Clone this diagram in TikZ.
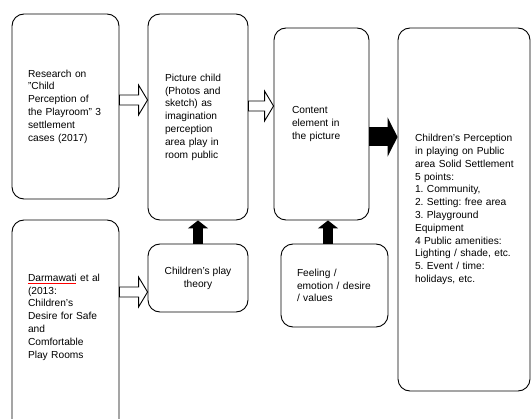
\documentclass[tikz,border=0pt]{standalone}
\usepackage{fontspec}
\setmainfont{Liberation Sans}
\usetikzlibrary{arrows.meta,calc}
\frenchspacing
\hyphenpenalty=10000
\hbadness=10000
\hfuzz=20pt

\newcommand{\redwave}[1]{\setbox0\hbox{#1}\rlap{\textcolor{red}{\raisebox{-2.5pt}{\hbox to \wd0{\leaders\hbox to 2pt{\rule[0.5pt]{1pt}{0.5pt}\rule[0pt]{1pt}{0.5pt}}\hfill}}}}\box0{}}

\newcommand{\hollowarrow}[2]{%
\draw[hollow] ($(#1)+(0,-5)$) -- ($(#2)+(-9,-5)$) -- ($(#2)+(-9,-15)$) -- (#2)
 -- ($(#2)+(-9,15)$) -- ($(#2)+(-9,5)$) -- ($(#1)+(0,5)$) -- cycle;}

\begin{document}
\begin{tikzpicture}[x=1pt,y=-1pt,
  box/.style 2 args={draw, line width=0.9pt, rounded corners=12pt, minimum width=#1, minimum height=#2, inner sep=0pt},
  txt/.style={align=left, text width=#1, font=\fontsize{10.2}{12.8}\selectfont},
  hollow/.style={draw, fill=white, line width=0.9pt, line join=miter},
  blackarrow/.style n args={3}{line width=#1, -{Triangle[width=#2, length=#3]}}]
\path[use as bounding box, clip] (0,0) rectangle (532,419);
\node[box={107pt}{185pt}, txt=75pt] (res) at (65.5,106.5) {Research on\\
"Child\\
Perception of\\
the Playroom" 3\\
settlement\\
cases (2017)};
\node[box={100pt}{206pt}, txt=66pt] (pic) at (198,117) {Picture child\\
(Photos and\\
sketch) as\\
imagination\\
perception\\
area play in\\
room public};
\node[box={95pt}{192pt}, txt=59pt] (con) at (321.5,124) {Content\\
element in\\
the picture};
\node[box={132pt}{363pt}, txt=98pt] (perc) at (464,209.5) {\mbox{Children's Perception}\\
in playing on Public\\
\mbox{area Solid Settlement}\\
5 points:\\
1. Community,\\
2. Setting: free area\\
3. Playground\\
Equipment\\
4 Public amenities:\\
\mbox{Lighting / shade, etc.}\\
5. Event / time:\\
holidays, etc.};
\node[box={107pt}{215pt}] (dar) at (65.5,327.5) {};
\node[txt=75pt] (dartxt) at (65.5,317) {\redwave{Darmawati} et al\\
(2013:\\
Children's\\
Desire for Safe\\
and\\
Comfortable\\
Play Rooms};
\node[box={100pt}{68pt}, align=center, font=\fontsize{10.2}{12.8}\selectfont] (theory) at (198,278) {Children's play\\
theory};
\node[box={107pt}{83pt}, txt=75pt] (feel) at (334.5,285.5) {Feeling /\\
emotion / desire\\
/ values};
\hollowarrow{[yshift=6.5pt]res.east}{[yshift=17pt]pic.west}
\hollowarrow{[yshift=11pt]pic.east}{[yshift=18pt]con.west}
\hollowarrow{[yshift=35.5pt]dar.east}{[yshift=-14pt]theory.west}
\draw[blackarrow={19pt}{39pt}{10pt}] ([yshift=-13pt]con.east) -- ([yshift=72.5pt]perc.west);
\draw[blackarrow={10pt}{20pt}{8pt}] (theory.north) -- (pic.south);
\draw[blackarrow={10pt}{20pt}{8pt}] ([xshift=-6.5pt]feel.north) -- ([xshift=6.5pt]con.south);
\end{tikzpicture}
\end{document}
